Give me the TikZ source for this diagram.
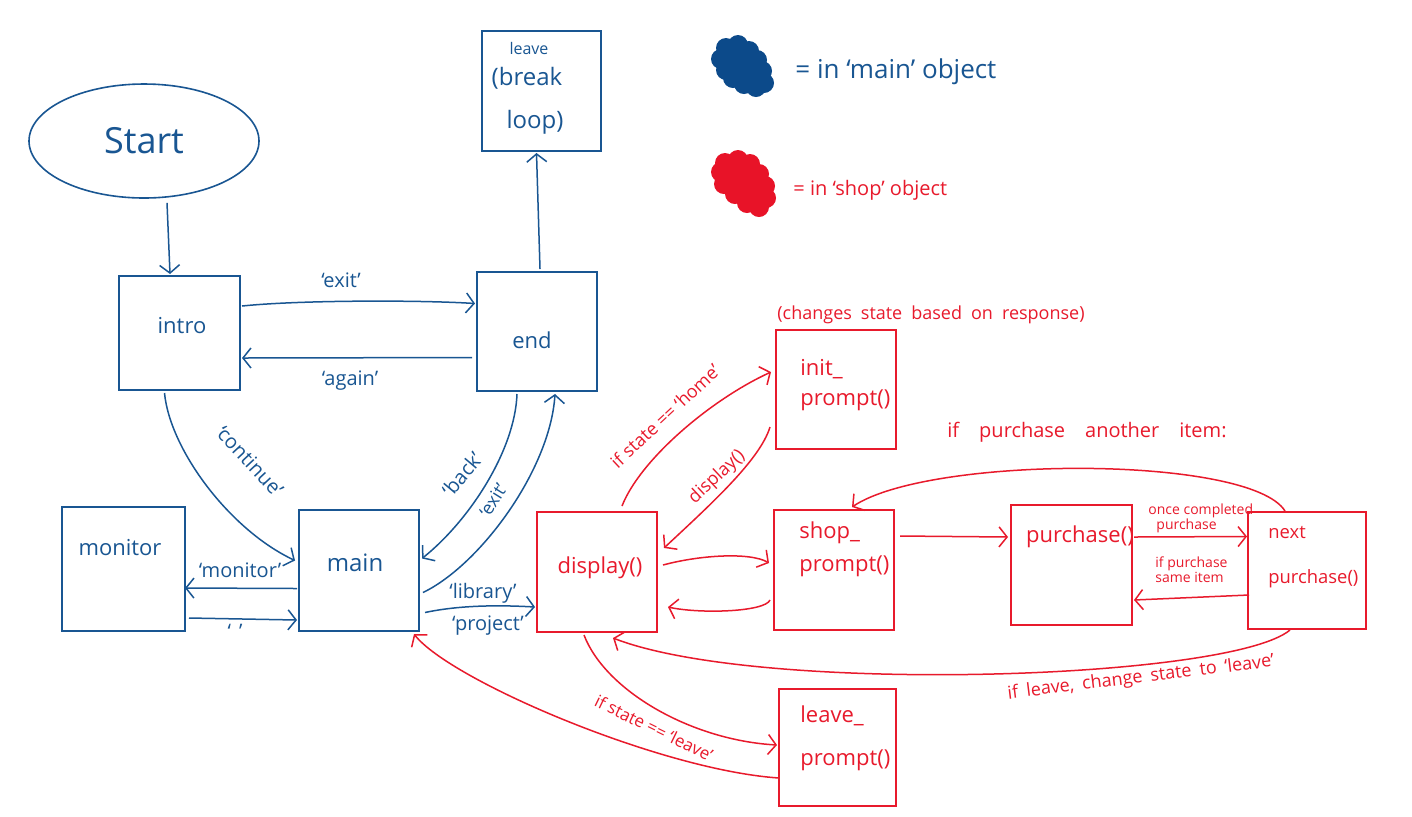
\documentclass[tikz,border=0pt]{standalone}
\usepackage{fontspec}
\setmainfont{Open Sans}
\usetikzlibrary{arrows.meta,calc,fit,shapes.geometric}
\definecolor{inkblue}{RGB}{25,86,146}
\definecolor{inkred}{RGB}{232,26,44}
\definecolor{blobblue}{RGB}{12,74,138}
\definecolor{blobred}{RGB}{232,19,40}
\begin{document}
\begin{tikzpicture}[x=0.5pt,y=-0.5pt,
  boxline/.style={draw, line width=1pt, inner sep=0pt},
  bbox/.style={boxline, draw=inkblue},
  rbox/.style={boxline, draw=inkred},
  tip/.style={-{Straight Barb[length=4pt,width=10pt]}},
  bconn/.style={draw=inkblue, line width=0.75pt, tip},
  rconn/.style={draw=inkred, line width=0.75pt, tip},
  btext/.style={text=inkblue, font=\fontsize{11}{15}\selectfont, inner sep=0pt},
  rtext/.style={text=inkred, font=\fontsize{11}{15}\selectfont, inner sep=0pt},
  blabel/.style={text=inkblue, font=\fontsize{10}{12}\selectfont, inner sep=0pt},
  rlabel/.style={text=inkred, font=\fontsize{9}{11}\selectfont, inner sep=0pt},
  rtiny/.style={text=inkred, font=\fontsize{7}{7.5}\selectfont, inner sep=0pt},
]
\fill[white] (0,0) rectangle (1412,816);
\useasboundingbox (0,0) rectangle (1412,816);

% ---- states handled by main ----
\node[draw=inkblue, ellipse, line width=.8pt, minimum width=115pt, minimum height=57pt,
      inner sep=0pt, text=inkblue, font=\fontsize{18}{20}\selectfont] (start) at (144,141) {Start};
\node[bbox, fit={(482,31) (601,151)}] (leave) {};
\node[bbox, fit={(119,276) (240,390)}] (intro) {};
\node[bbox, fit={(477,272) (597,391)}] (end) {};
\node[bbox, fit={(62,507) (185,631)}] (monitor) {};
\node[bbox, fit={(299,510) (419,631)}] (main) {};

\node[btext, font=\fontsize{8}{9}\selectfont] (leave-t1) at (529,48) {leave};
\node[btext, font=\fontsize{12}{14}\selectfont] (leave-t2) at (527,78) {(break};
\node[btext, font=\fontsize{12}{14}\selectfont] (leave-t3) at (535,122) {loop)};
\node[btext] (intro-t) at (182,326) {intro};
\node[btext] (end-t) at (532,340) {end};
\node[btext] (monitor-t) at (120,548) {monitor};
\node[btext, font=\fontsize{12}{14}\selectfont] (main-t) at (355,563) {main};

% ---- states handled by shop ----
\node[rbox, fit={(537,512) (657,632)}] (display) {};
\node[rbox, fit={(776,330) (896,449)}] (initprompt) {};
\node[rbox, fit={(774,510) (894,630)}] (shopprompt) {};
\node[rbox, fit={(1011,505) (1132,625)}] (purchase) {};
\node[rbox, fit={(1248,512) (1366,629)}] (nextpurchase) {};
\node[rbox, fit={(779,689) (896,806)}] (leaveprompt) {};

\node[rtext] (display-t) at (600,568) {display()};
\node[rtext, anchor=west, align=left] (initprompt-t) at (800,385) {init\_\\prompt()};
\node[rtext, anchor=west, align=left] (shopprompt-t) at (799,549.5) {shop\_\\[1.5pt]prompt()};
\node[rtext] (purchase-t) at (1080,537) {purchase()};
\node[rtext, anchor=west, align=left, font=\fontsize{9.2}{14}\selectfont] (nextpurchase-t) at (1268,557.5) {next\\[8.5pt]purchase()};
\node[rtext, anchor=west, align=left] (leaveprompt-t) at (800,738.5) {leave\_\\[6.5pt]prompt()};

% ---- main transitions ----
\draw[bconn] ($(start.south)+(23,4)$) -- ($(intro.north)+(-9.5,-1)$);
\draw[bconn] ($(end.north)+(3,-2)$) -- ($(leave.south)+(-5,1)$);
\draw[bconn] ($(intro.east)+(1,-27)$) .. controls (300,300) and (420,300) .. ($(end.west)+(-1,-28)$);
\draw[bconn] ($(end.west)+(-4,26)$) -- ($(intro.east)+(1,25)$);
\draw[bconn] ($(intro.south)+(-15,2)$) .. controls (170,450) and (230,530) .. ($(main.west)+(-3,-10)$);
\draw[bconn] ($(end.south)+(-20,2)$) .. controls (515,450) and (470,520) .. ($(main.east)+(2,-12)$);
\draw[bconn] ($(main.east)+(3,22)$) .. controls (480,565) and (550,470) .. ($(end.south)+(18,2)$);
\draw[bconn] ($(main.west)+(-1,18)$) -- ($(monitor.east)+(-1,19)$);
\draw[bconn] ($(monitor.east)+(3,49)$) -- ($(main.west)+(-1,49.5)$);
\draw[bconn] ($(main.east)+(5,42)$) .. controls (460,605) and (500,605) .. ($(display.west)+(-1,35)$);

\node[blabel] (lbl-exit1) at (341,280) {`exit'};
\node[blabel] (lbl-again) at (350,381) {`again'};
\node[blabel, rotate=-47] (lbl-continue) at (250,461) {`continue'};
\node[blabel, rotate=50] (lbl-back) at (462,474) {`back'};
\node[blabel, font=\fontsize{9}{11}\selectfont, rotate=58] (lbl-exit2) at (493,500) {`exit'};
\node[blabel] (lbl-monitor) at (240,570) {`monitor'};
\node[blabel] (lbl-blank) at (235,631) {`\hspace{4pt}'};
\node[blabel] (lbl-library) at (483,593) {`library'};
\node[blabel] (lbl-project) at (488,626) {`project'};

% ---- shop transitions ----
\draw[rconn] ($(display.north)+(25,-5)$) .. controls (640,460) and (710,400) .. ($(initprompt.west)+(-4,-17.5)$);
\draw[rconn] ($(initprompt.west)+(-5,37.5)$) .. controls (760,460) and (710,505) .. ($(display.east)+(6,-24)$);
\draw[rconn] ($(display.east)+(5,-7)$) .. controls (700,555) and (750,552) .. ($(shopprompt.west)+(-4,-7)$);
\draw[rconn] ($(shopprompt.west)+(-3,30)$) .. controls (765,612) and (700,614) .. ($(display.east)+(10,35)$);
\draw[rconn] ($(shopprompt.east)+(5,-34)$) -- ($(purchase.west)+(-2,-28)$);
\draw[rconn] ($(purchase.east)+(1,-28)$) -- ($(nextpurchase.west)+(0,-34)$);
\draw[rconn] ($(nextpurchase.west)+(2,24.5)$) -- ($(purchase.east)+(1,35)$);
\draw[rconn] ($(nextpurchase.north)+(-22,0)$) .. controls (1250,455) and (930,455) .. ($(shopprompt.north)+(18,-2)$);
\draw[rconn] ($(nextpurchase.south)+(-17,0)$) .. controls (1230,680) and (760,695) .. ($(display.south)+(16,5)$);
\draw[rconn] ($(display.south)+(-13,2)$) .. controls (605,690) and (690,740) .. ($(leaveprompt.west)+(-1,-2.5)$);
\draw[rconn] ($(leaveprompt.west)+(1,30.5)$) .. controls (660,770) and (450,680) .. ($(main.south east)+(-6,2)$);

\node[rlabel] (note-init) at (931,315) {(changes\hspace{.5em}state\hspace{.5em}based\hspace{.5em}on\hspace{.5em}response)};
\node[rlabel, rotate=43] (lbl-home) at (665,416) {if state == `home'};
\node[rlabel, rotate=43] (lbl-display) at (717,477) {display()};
\node[rlabel, font=\fontsize{10}{12}\selectfont] (note-another) at (1087,432) {if\hspace{1em}purchase\hspace{1em}another\hspace{1em}item:};
\node[rtiny, align=left, anchor=west] (lbl-once) at (1148,518) {once completed\\\hspace{4pt}purchase};
\node[rtiny, align=left, anchor=west] (lbl-same) at (1155,570) {if purchase\\same item};
\node[rlabel, rotate=7] (lbl-leave) at (1141,678) {if\hspace{.45em}leave,\hspace{.45em}change\hspace{.45em}state\hspace{.45em}to\hspace{.45em}`leave'};
\node[rlabel, font=\fontsize{8.5}{10}\selectfont, rotate=-26] (lbl-stateleave) at (654,728) {if state == `leave'};

% ---- key ----
\foreach \cx/\cy/\r in {726/48/5, 738/45/5, 749/51/5, 757/60/5, 762/71/5, 764/83/5, 756/87/5,
  744/84/5, 733/78/5, 726/70/5, 721/59/5, 740/62/7, 750/72/7, 735/66/6}
  \fill[blobblue] (\cx,\cy) circle[radius=\r pt];
\foreach \cx/\cy/\r in {725/163/5, 738/160/5, 750/164/5, 759/174/5, 765/186/5, 766/198/5, 759/207/5,
  747/203/5, 735/194/5, 724/184/5, 721/172/5, 742/178/7, 752/190/7, 735/178/6}
  \fill[blobred] (\cx,\cy) circle[radius=\r pt];
\node[anchor=west, text=inkblue, font=\fontsize{13}{15}\selectfont, inner sep=0pt] (key-main) at (795,72) {= in `main' object};
\node[anchor=west, text=inkred, font=\fontsize{10}{12}\selectfont, inner sep=0pt] (key-shop) at (793,190) {= in `shop' object};
\end{tikzpicture}
\end{document}
